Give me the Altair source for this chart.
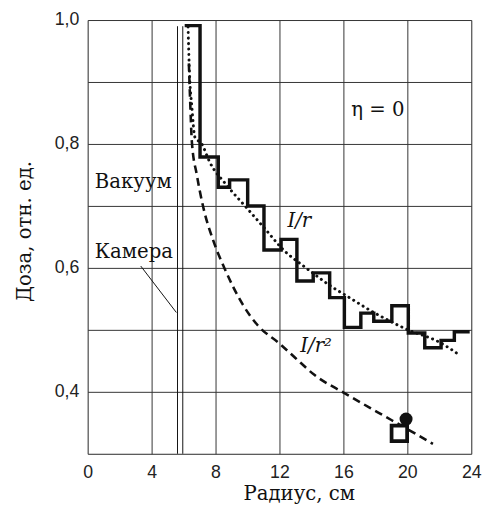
import altair as alt
import pandas as pd

# ---- data ----
step_r = [6.07, 7.03, 8.17, 8.88, 10.01, 11.03, 12.1, 13.09, 14.11, 15.14, 16.06,
          17.09, 17.9, 19.03, 20.06, 21.09, 22.11, 22.94, 23.9]
step_dose = [0.991, 0.779, 0.730, 0.742, 0.700, 0.629, 0.646, 0.579, 0.592, 0.552,
             0.504, 0.527, 0.514, 0.539, 0.495, 0.471, 0.483, 0.497, 0.497]

inv_r_r = [6.28, 6.37, 6.52, 6.71, 7.14, 7.63, 8.68, 9.91, 11.03, 12.37, 13.40,
           14.22, 15.24, 16.06, 17.91, 19.96, 22.01, 23.34]
inv_r_dose = [0.989, 0.914, 0.859, 0.811, 0.800, 0.771, 0.734, 0.698, 0.665, 0.626,
              0.605, 0.589, 0.570, 0.557, 0.528, 0.501, 0.480, 0.458]

inv_r2_r = [6.33, 6.40, 6.52, 6.83, 7.24, 7.86, 8.55, 9.70, 10.65, 12.0, 12.98,
            14.2, 16.06, 18.15, 20.06, 21.6]
inv_r2_dose = [0.930, 0.878, 0.803, 0.750, 0.697, 0.644, 0.600, 0.541, 0.507, 0.478,
               0.455, 0.427, 0.398, 0.367, 0.339, 0.316]

chamber_r = [5.62, 5.95]
chamber_top = 0.99
chamber_bottom = 0.30

circle_r = [19.92]
circle_dose = [0.356]
square_r = [19.5]
square_dose = [0.333]

x_ticks = [0, 4, 8, 12, 16, 20, 24]
y_ticks = [0.3, 0.4, 0.5, 0.6, 0.7, 0.8, 0.9, 1.0]

leader_r = [3.32, 5.55]
leader_dose = [0.603, 0.528]

labels_plain = ["Вакуум", "Камера"]
labels_plain_r = [0.45, 0.45]
labels_plain_dose = [0.738, 0.625]

eta_label = ["η = 0"]
eta_r = [18.15]
eta_dose = [0.854]

italic_labels = ["I/r", "I/r²"]
italic_r = [12.5, 13.3]
italic_dose = [0.676, 0.474]

# ---- tables ----
step_df = pd.DataFrame({"r": step_r, "dose": step_dose})
inv_r_df = pd.DataFrame({"r": inv_r_r, "dose": inv_r_dose, "o": range(len(inv_r_r))})
inv_r2_df = pd.DataFrame({"r": inv_r2_r, "dose": inv_r2_dose, "o": range(len(inv_r2_r))})
chamber_df = pd.DataFrame({"r": chamber_r, "dose": [chamber_bottom] * 2, "dose2": [chamber_top] * 2})
circle_df = pd.DataFrame({"r": circle_r, "dose": circle_dose})
square_df = pd.DataFrame({"r": square_r, "dose": square_dose})
leader_df = pd.DataFrame({"r": [leader_r[0]], "r2": [leader_r[1]],
                          "dose": [leader_dose[0]], "dose2": [leader_dose[1]]})
plain_df = pd.DataFrame({"r": labels_plain_r, "dose": labels_plain_dose, "t": labels_plain})
eta_df = pd.DataFrame({"r": eta_r, "dose": eta_dose, "t": eta_label})
ital_df = pd.DataFrame({"r": italic_r, "dose": italic_dose, "t": italic_labels})

W, H = 390, 441
serif = "DejaVu Serif"
sans = "Liberation Sans"

X = alt.X("r:Q",
          scale=alt.Scale(domain=[0, 24], nice=False, zero=False),
          axis=alt.Axis(values=x_ticks, format="d", title="Радиус, см",
                        titleFont=serif, titleFontSize=20, titleFontWeight="normal",
                        titleColor="#111", titleAlign="left", titleAnchor="start",
                        titleX=158, titleY=46, titleBaseline="alphabetic",
                        labelFont=sans, labelFontSize=18, labelColor="#222",
                        labelPadding=10, tickSize=0, ticks=False, domain=False,
                        grid=True, gridColor="#333", gridWidth=1, labelFlush=False))
Y = alt.Y("dose:Q",
          scale=alt.Scale(domain=[0.3, 1.0], nice=False, zero=False),
          axis=alt.Axis(values=y_ticks, title="Доза, отн. ед.",
                        labelExpr="(abs(round(datum.value*10)) % 2 == 0 && datum.value > 0.35) ? replace(format(datum.value, '.1f'), '.', ',') : ''",
                        titleFont=serif, titleFontSize=20, titleFontWeight="normal",
                        titleColor="#111", titleX=-58, titleY=H / 2 - 6,
                        titleAlign="center", titleBaseline="alphabetic", titleAngle=270,
                        labelFont=sans, labelFontSize=18, labelColor="#222",
                        labelPadding=9, tickSize=0, ticks=False, domain=False,
                        grid=True, gridColor="#333", gridWidth=1, labelFlush=False))

chamber = alt.Chart(chamber_df).mark_rule(color="#111", strokeWidth=1).encode(
    x=X, y=Y, y2="dose2:Q")

leader = alt.Chart(leader_df).mark_rule(color="#111", strokeWidth=1).encode(
    x=X, y=Y, x2="r2:Q", y2="dose2:Q")

inv_r2 = alt.Chart(inv_r2_df).mark_line(
    color="#111", strokeWidth=2.6, strokeDash=[8, 5], interpolate="monotone").encode(
    x=X, y=Y, order="o:Q")

inv_r = alt.Chart(inv_r_df).mark_line(
    color="#111", strokeWidth=3, strokeDash=[0.1, 5.5], strokeCap="round",
    interpolate="monotone").encode(x=X, y=Y, order="o:Q")

step = alt.Chart(step_df).mark_line(
    color="#111", strokeWidth=3.5, interpolate="step-after", strokeJoin="miter").encode(
    x=X, y=Y)

square = alt.Chart(square_df).mark_point(
    shape="square", size=250, filled=True, fill="white", stroke="#111",
    strokeWidth=3.8, opacity=1).encode(x=X, y=Y)

circle = alt.Chart(circle_df).mark_point(
    shape="circle", size=175, filled=True, color="#111", opacity=1).encode(x=X, y=Y)

plain = alt.Chart(plain_df).mark_text(
    font=serif, fontSize=20, align="left", baseline="middle", color="#111").encode(
    x=X, y=Y, text="t:N")

eta = alt.Chart(eta_df).mark_text(
    font=serif, fontSize=20, align="center", baseline="middle", color="#111").encode(
    x=X, y=Y, text="t:N")

ital = alt.Chart(ital_df).mark_text(
    font=serif, fontSize=20, fontStyle="italic", align="left", baseline="middle",
    color="#111").encode(x=X, y=Y, text="t:N")

chart = alt.layer(
    chamber, leader, inv_r2, inv_r, step, square, circle, plain, eta, ital
).properties(
    width=W, height=H,
    autosize=alt.AutoSizeParams(type="none"),
    padding={"left": 81, "top": 8, "right": 17, "bottom": 58},
).configure_view(
    stroke="#111", strokeWidth=2.5
).configure(background="white")

chart.save("out.html", embed_options={"renderer": "svg", "actions": False})
